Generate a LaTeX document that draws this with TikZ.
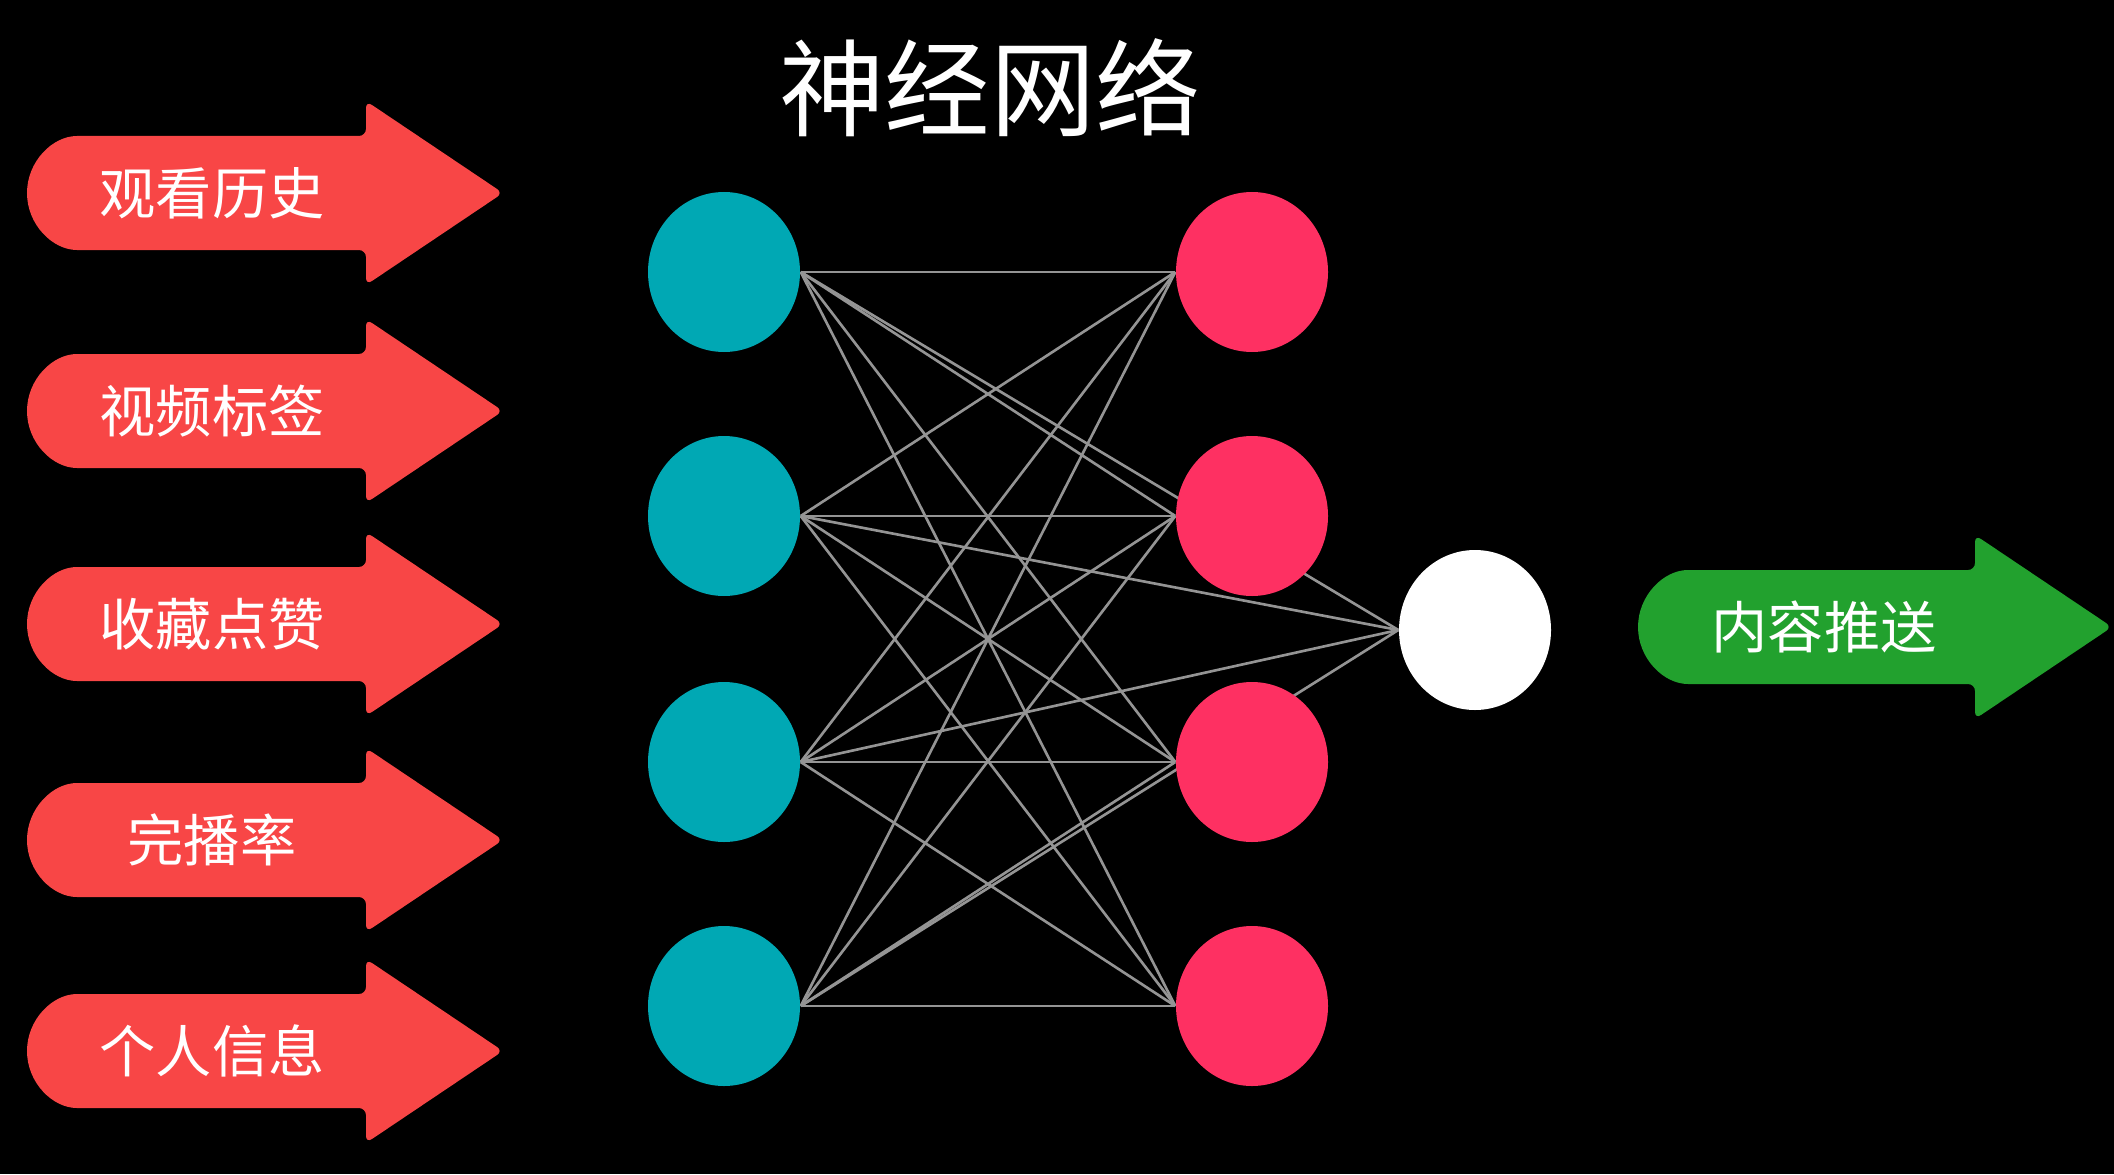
\documentclass[tikz,border=0pt]{standalone}
\usepackage{fontspec}
\newfontfamily\cjk{Noto Sans CJK SC}
\usetikzlibrary{shapes.geometric}
\definecolor{netblack}{HTML}{000000}
\definecolor{netred}{HTML}{F84646}
\definecolor{netgreen}{HTML}{22A12E}
\definecolor{netteal}{HTML}{00A8B4}
\definecolor{netpink}{HTML}{FE3062}
\definecolor{netline}{HTML}{949494}
\pgfdeclarelayer{backdrop}
\pgfdeclarelayer{wires}
\pgfsetlayers{backdrop,wires,main}
\tikzset{
  nettitle/.style={font=\cjk\fontsize{30pt}{36pt}\selectfont, text=white},
  armlabel/.style={font=\cjk\fontsize{16pt}{20pt}\selectfont, text=white, inner sep=0pt},
  redarm/.style={fill=netred, rounded corners=2pt},
  greenarm/.style={fill=netgreen, rounded corners=2pt},
  neuron/.style={ellipse, minimum width=1.52cm, minimum height=1.60cm, inner sep=0pt},
  tealneuron/.style={neuron, fill=netteal},
  pinkneuron/.style={neuron, fill=netpink},
  outneuron/.style={neuron, fill=white},
  wire/.style={draw=netline, line width=.75pt}
}

\begin{document}
\begin{tikzpicture}[x=1cm,y=1cm]
  \useasboundingbox (0,0) rectangle (21.14,11.74);
  \begin{pgfonlayer}{backdrop}
    \fill[netblack] (0,0) rectangle (21.14,11.74);
  \end{pgfonlayer}

  \node[nettitle] (title) at (9.90,10.86) {神经网络};

  % input arms on the left
  \foreach \y/\txt [count=\i] in {9.81/观看历史,7.63/视频标签,5.50/收藏点赞,3.34/完播率,1.23/个人信息} {
    \fill[redarm] (5.03,\y) -- (3.66,\y-0.92) -- (3.66,\y-0.57) -- (0.84,\y-0.57)
      arc[start angle=270, end angle=90, radius=0.57]
      -- (3.66,\y+0.57) -- (3.66,\y+0.92) -- cycle;
    \node[armlabel] (in\i) at (2.12,\y) {\txt};
  }

  % two layers and the output unit
  \foreach \y [count=\i] in {9.02,6.58,4.12,1.68} {
    \node[tealneuron] (h\i) at (7.24,\y) {};
    \node[pinkneuron] (p\i) at (12.52,\y) {};
  }
  \node[outneuron] (out) at (14.75,5.44) {};

  \begin{pgfonlayer}{wires}
    \foreach \i in {1,...,4} {
      \foreach \j in {1,...,4}
        \draw[wire] (h\i.east) -- (p\j.west);
      \draw[wire] (h\i.east) -- (out.west);
    }
  \end{pgfonlayer}

  % output arm
  \fill[greenarm] (21.12,5.47) -- (19.75,4.55) -- (19.75,4.90) -- (16.95,4.90)
    arc[start angle=270, end angle=90, radius=0.57]
    -- (19.75,6.04) -- (19.75,6.39) -- cycle;
  \node[armlabel] (push) at (18.24,5.47) {内容推送};
\end{tikzpicture}
\end{document}
